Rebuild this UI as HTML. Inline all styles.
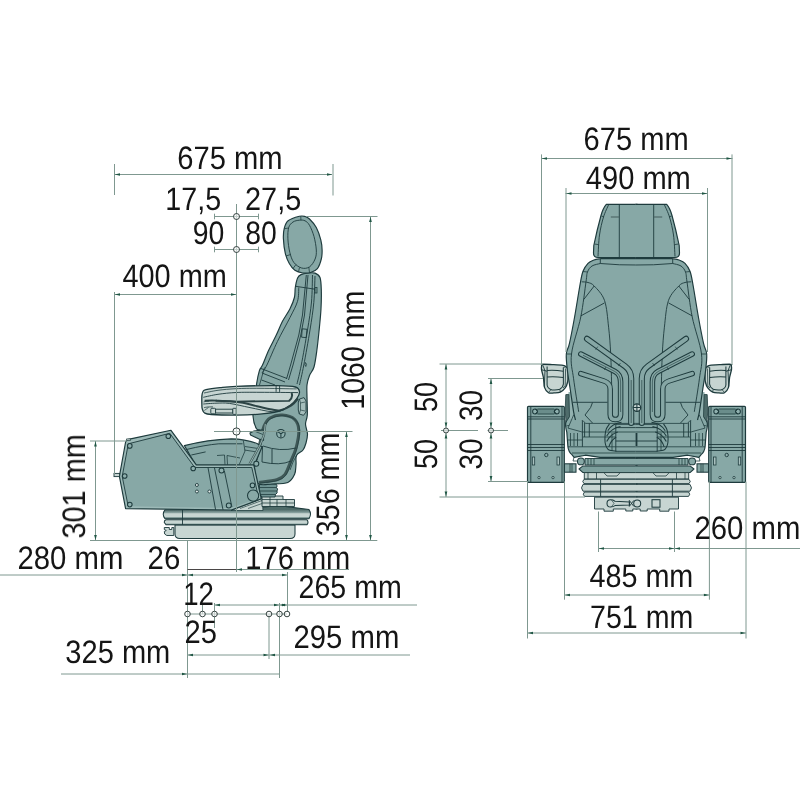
<!DOCTYPE html>
<html><head><meta charset="utf-8"><title>Seat dimensions</title>
<style>html,body{margin:0;padding:0;background:#fff}svg{display:block}</style></head><body>
<svg width="800" height="800" viewBox="0 0 800 800">
<rect width="800" height="800" fill="#fff"/>
<defs><linearGradient id="dg1" gradientUnits="userSpaceOnUse" x1="0" y1="509.5" x2="0" y2="519"><stop offset="0" stop-color="#4f6b69"/><stop offset="0.3" stop-color="#7e9896"/><stop offset="0.45" stop-color="#c7d5d2"/><stop offset="0.75" stop-color="#c7d5d2"/><stop offset="0.85" stop-color="#7e9896"/><stop offset="1" stop-color="#5f7a78"/></linearGradient><linearGradient id="dg2" gradientUnits="userSpaceOnUse" x1="0" y1="519.8" x2="0" y2="525"><stop offset="0" stop-color="#c7d5d2"/><stop offset="0.65" stop-color="#c7d5d2"/><stop offset="0.8" stop-color="#7e9896"/><stop offset="1" stop-color="#5f7a78"/></linearGradient></defs>
<g id="side">
<path d="M175 525 H295 V534 Q295 538.5 290 538.5 H180 Q175 538.5 175 534Z" fill="#c7d5d2" stroke="#1e3b3d" stroke-width="1.04" stroke-linejoin="round"  stroke-linecap="butt"/>
<path d="M166 519.8 H307 Q309 522 307 524.8 H166 L164.3 522.5 Q164 520.5 166 519.8Z" fill="url(#dg2)" stroke="#1e3b3d" stroke-width="1.04" stroke-linejoin="round"  stroke-linecap="butt"/>
<path d="M165 509.8 L243 509.4 L278 505.5 L309 509.6 Q312 514 309 518.8 H165 Q161.5 514 165 509.8Z" fill="url(#dg1)" stroke="#1e3b3d" stroke-width="1.04" stroke-linejoin="round"  stroke-linecap="butt"/>
<path d="M164.3 527.5 h5 v2 h2.5 v-2 h2 v8 h-7 q-3 -1 -2.5 -4 l2 -1 l-2 -1z" fill="#c7d5d2" stroke="#1e3b3d" stroke-width="0.91" stroke-linejoin="round"  stroke-linecap="butt"/>
<path d="M182.5 510V525" fill="none" stroke="#1e3b3d" stroke-width="0.91" stroke-linejoin="round"  stroke-linecap="butt"/>
<path d="M231 510.5 L261.3 498.8 L262 496 L263 510.5Z" fill="#c7d5d2" stroke="#1e3b3d" stroke-width="0.78" stroke-linejoin="round"  stroke-linecap="butt"/>
<path d="M240 508.5 L262 500.5 M248 508.5 L262 503.5" fill="none" stroke="#1e3b3d" stroke-width="0.65" stroke-linejoin="round"  stroke-linecap="butt"/>
<path d="M262 496 H283 V499.5 H294.5 V506.5 H262Z" fill="#c7d5d2" stroke="#1e3b3d" stroke-width="0.91" stroke-linejoin="round"  stroke-linecap="butt"/>
<path d="M262 499.5H283M262 503H294.5M270 496V506.5M277 499.5V506.5M286 499.5V506.5" fill="none" stroke="#1e3b3d" stroke-width="0.78" stroke-linejoin="round"  stroke-linecap="butt"/>
<path d="M259.5 484 H276 Q278 486 276.5 487.5 Q278.5 489 277 491 Q278 493 275.5 494.5 L275 497 H262 L259.5 494Z" fill="#6f9392" stroke="#1e3b3d" stroke-width="0.91" stroke-linejoin="round"  stroke-linecap="butt"/>
<path d="M260 487.5H276.5M260 491H277M261 494.5H275.5" fill="none" stroke="#1e3b3d" stroke-width="0.78" stroke-linejoin="round"  stroke-linecap="butt"/>
<path d="M301 274.6C302.73 273.77 305.67 273.25 308 273C310.33 272.75 313 272.35 315 273.1C317 273.85 318.95 274.68 320 277.5C321.05 280.32 321.13 284.78 321.3 290C321.47 295.22 321.32 302.55 321 308.8C320.68 315.05 320.08 320.63 319.4 327.5C318.72 334.37 317.8 343.42 316.9 350C316 356.58 315.23 362.75 314 367C312.77 371.25 310.67 372.5 309.5 375.5C308.33 378.5 307.42 381.42 307 385C306.58 388.58 306.95 392 307 397C307.05 402 307.55 410.5 307.3 415C307.05 419.5 305.47 420.83 305.5 424C305.53 427.17 307.42 430.83 307.5 434C307.58 437.17 306.75 440.33 306 443C305.25 445.67 304.58 447.92 303 450C301.42 452.08 297.67 453.07 296.5 455.5C295.33 457.93 296.32 461.47 296 464.6C295.68 467.73 295.97 471.32 294.6 474.3C293.23 477.28 291.57 480.88 287.8 482.5C284.03 484.12 276.97 483.83 272 484C267.03 484.17 260.92 486.17 258 483.5C255.08 480.83 254.67 472.75 254.5 468C254.33 463.25 255.92 459 257 455C258.08 451 260.08 447.17 261 444C261.92 440.83 262.58 438.25 262.5 436C262.42 433.75 261.53 431.75 260.5 430.5C259.47 429.25 257.55 430.92 256.3 428.5C255.05 426.08 253.22 420.75 253 416C252.78 411.25 254.4 405.37 255 400C255.6 394.63 255.87 388.7 256.6 383.8C257.33 378.9 258.42 373.73 259.4 370.6C260.38 367.47 260.93 368.43 262.5 365C264.07 361.57 266.5 355 268.8 350C271.1 345 274.02 339.78 276.3 335C278.58 330.22 280.22 325.67 282.5 321.3C284.78 316.93 288.02 312.77 290 308.8C291.98 304.83 293.52 301.05 294.4 297.5C295.28 293.95 294.77 290.75 295.3 287.5C295.83 284.25 296.65 280.15 297.6 278C298.55 275.85 299.27 275.43 301 274.6Z" fill="#87a8a6" stroke="#1e3b3d" stroke-width="1.17" stroke-linejoin="round"  stroke-linecap="butt"/>
<path d="M298.8 287.5C298.58 289.8 298.97 296.3 297.5 301.3C296.03 306.3 293.33 310.83 290 317.5C286.67 324.17 281.35 333.38 277.5 341.3C273.65 349.22 269.48 359.72 266.9 365C264.32 370.28 262.82 371.67 262 373" fill="none" stroke="#1e3b3d" stroke-width="0.91" stroke-linejoin="round"  stroke-linecap="butt"/>
<path d="M306.3 275 L302.5 315 L298.8 335 L290.6 365 L286.5 379" fill="none" stroke="#1e3b3d" stroke-width="0.91" stroke-linejoin="round"  stroke-linecap="butt"/>
<path d="M308 275 L304.5 315 L300.8 335 L293 365 L288.5 380" fill="none" stroke="#1e3b3d" stroke-width="0.91" stroke-linejoin="round"  stroke-linecap="butt"/>
<path d="M312.5 275C312.33 279.5 312.33 292.83 311.5 302C310.67 311.17 309.2 319.5 307.5 330C305.8 340.5 303.05 356 301.3 365C299.55 374 297.72 380.83 297 384" fill="none" stroke="#1e3b3d" stroke-width="0.91" stroke-linejoin="round"  stroke-linecap="butt"/>
<path d="M315 276C314.8 280.42 314.63 293.5 313.8 302.5C312.97 311.5 311.67 319.58 310 330C308.33 340.42 305.55 355.83 303.8 365C302.05 374.17 300.22 381.67 299.5 385" fill="none" stroke="#1e3b3d" stroke-width="0.91" stroke-linejoin="round"  stroke-linecap="butt"/>
<path d="M295.6 286.3 L316.3 289.4" fill="none" stroke="#1e3b3d" stroke-width="0.91" stroke-linejoin="round"  stroke-linecap="butt"/>
<rect x="315" y="287.5" width="2" height="5.5" rx="0" fill="#7a9b9a" stroke="#1e3b3d" stroke-width="0.78"/>
<path d="M302.2 328.8 L307 329.3 L306.2 337.6 L301.6 337.2Z" fill="none" stroke="#1e3b3d" stroke-width="0.91" stroke-linejoin="round"  stroke-linecap="butt"/>
<path d="M305.5 362.5 q1.8 1.5 0.3 4 q-1.6 -1.5 -0.3 -4z" fill="none" stroke="#1e3b3d" stroke-width="0.78" stroke-linejoin="round"  stroke-linecap="butt"/>
<path d="M261 368.5 L287 378.5 M262 373 L285 382 M261.5 380 L275 385" fill="none" stroke="#1e3b3d" stroke-width="0.91" stroke-linejoin="round"  stroke-linecap="butt"/>
<path d="M264.5 367.5 L259.5 385" fill="none" stroke="#1e3b3d" stroke-width="0.78" stroke-linejoin="round"  stroke-linecap="butt"/>
<path d="M299.5 399 L304 397.6 L306 401 L306 412 L303.5 415.3 L299.3 414 L298.3 410 L298.3 402Z" fill="#a5bebc" stroke="#1e3b3d" stroke-width="0.91" stroke-linejoin="round"  stroke-linecap="butt"/>
<path d="M299.5 399 L300.5 403 L300.5 410 L299.3 414 M300.5 403 L305 402 M300.5 410 L305 411" fill="none" stroke="#1e3b3d" stroke-width="0.65" stroke-linejoin="round"  stroke-linecap="butt"/>
<path d="M299.4 216.3C302.22 215.58 303.32 216.05 305 216.5C306.68 216.95 307.62 217.17 309.5 219C311.38 220.83 314.42 224.02 316.3 227.5C318.18 230.98 319.83 236.15 320.8 239.9C321.77 243.65 322.02 246.82 322.1 250C322.18 253.18 322.08 255.9 321.3 259C320.52 262.1 319.18 266.35 317.4 268.6C315.62 270.85 313.03 271.77 310.6 272.5C308.17 273.23 305.42 273.37 302.8 273C300.18 272.63 297.15 271.88 294.9 270.3C292.65 268.72 290.9 266.32 289.3 263.5C287.7 260.68 286.28 257.52 285.3 253.4C284.32 249.28 283.58 242.93 283.4 238.8C283.22 234.67 283.42 231.6 284.2 228.6C284.98 225.6 285.57 222.85 288.1 220.8C290.63 218.75 296.58 217.02 299.4 216.3Z" fill="#87a8a6" stroke="#1e3b3d" stroke-width="1.17" stroke-linejoin="round"  stroke-linecap="butt"/>
<path d="M299.4 220.2C301.4 220 303.32 219.95 305 220.8C306.68 221.65 308 222.68 309.5 225.3C311 227.92 312.87 232.38 314 236.5C315.13 240.62 316.12 246.25 316.3 250C316.48 253.75 316.23 256.18 315.1 259C313.97 261.82 311.75 265.4 309.5 266.9C307.25 268.4 304.22 268.75 301.6 268C298.98 267.25 295.77 265.02 293.8 262.4C291.83 259.78 290.78 256.23 289.8 252.3C288.82 248.37 288.08 242.93 287.9 238.8C287.72 234.67 287.85 230.3 288.7 227.5C289.55 224.7 291.22 223.22 293 222C294.78 220.78 297.4 220.4 299.4 220.2Z" fill="none" stroke="#1e3b3d" stroke-width="0.91" stroke-linejoin="round"  stroke-linecap="butt"/>
<path d="M284.3 228.7 L288.7 228 M286 256 L290.6 254.5 M293 268.5 L296 264.5 M298.5 271.8 L299.5 267.5 M309.5 272.5 L308.8 267.2 M300.8 216.3 L300.9 220.1" fill="none" stroke="#1e3b3d" stroke-width="0.78" stroke-linejoin="round"  stroke-linecap="butt"/>
<path d="M258.9 482.5C261.88 482.05 272.45 481.17 276.8 479.8C281.15 478.43 282.72 477.28 285 474.3C287.28 471.32 288.67 466.27 290.5 461.9C292.33 457.53 294.62 453.37 296 448.1C297.38 442.83 299.03 435.1 298.8 430.3C298.57 425.5 297.35 421.83 294.6 419.3C291.85 416.77 286.4 415.32 282.3 415.1C278.2 414.88 273.05 416.18 270 418C266.95 419.82 265.5 422.67 264 426C262.5 429.33 262 433.67 261 438C260 442.33 259.17 447.33 258 452C256.83 456.67 254.67 463.67 254 466" fill="none" stroke="#3f5857" stroke-width="3.0" stroke-linejoin="round"  stroke-linecap="butt"/>
<path d="M258.9 482.5C261.88 482.05 272.45 481.17 276.8 479.8C281.15 478.43 282.72 477.28 285 474.3C287.28 471.32 288.67 466.27 290.5 461.9C292.33 457.53 294.62 453.37 296 448.1C297.38 442.83 299.03 435.1 298.8 430.3C298.57 425.5 297.35 421.83 294.6 419.3C291.85 416.77 286.4 415.32 282.3 415.1C278.2 414.88 273.05 416.18 270 418C266.95 419.82 265.5 422.67 264 426C262.5 429.33 262 433.67 261 438C260 442.33 259.17 447.33 258 452C256.83 456.67 254.67 463.67 254 466" fill="none" stroke="#1e3b3d" stroke-width="0.65" stroke-linejoin="round" transform="translate(0.9,0.6)" stroke-linecap="butt"/>
<circle cx="280.9" cy="433.7" r="4.2" fill="#8fb0ae" stroke="#1e3b3d" stroke-width="1.04"/>
<path d="M280.9 433.7 L280.9 437.5 M280.9 433.7 L277.6 431.6 M280.9 433.7 L284.2 431.6" fill="none" stroke="#1e3b3d" stroke-width="1.04" stroke-linejoin="round"  stroke-linecap="butt"/>
<path d="M263 446 Q280 452 296 448 M262.5 446 L262 462 M272 449 V463 M262 462 Q280 466 291 461" fill="none" stroke="#1e3b3d" stroke-width="0.91" stroke-linejoin="round"  stroke-linecap="butt"/>
<path d="M296.5 455.5 L293 462 L290 470" fill="none" stroke="#1e3b3d" stroke-width="0.78" stroke-linejoin="round"  stroke-linecap="butt"/>
<path d="M263.5 429.8 L254 431 L250 433 L250.6 435 L259 439 L263.5 440.3Z" fill="#87a8a6" stroke="#1e3b3d" stroke-width="1.17" stroke-linejoin="round"  stroke-linecap="butt"/>
<path d="M254.5 431.2 L263 434.5" fill="none" stroke="#1e3b3d" stroke-width="0.78" stroke-linejoin="round"  stroke-linecap="butt"/>
<path d="M184.4 445.6 Q208 439.5 231.3 438.8 Q246 439 257.5 443.8 L262 447 L254 466 L196.3 466Z" fill="#87a8a6" stroke="#1e3b3d" stroke-width="1.17" stroke-linejoin="round"  stroke-linecap="butt"/>
<path d="M186.9 449.4 Q205 445 218.8 443.8 L242.5 443.8 M191.3 455 L205.6 451.9" fill="none" stroke="#1e3b3d" stroke-width="0.91" stroke-linejoin="round"  stroke-linecap="butt"/>
<path d="M217 455.5 L224.5 455 L225 465 M227.5 465 L227 455.5 L240 458 M243.3 440.5 L245 451 L239 465 M245 446.5 L258 448.5 M244.5 450 L257 452" fill="none" stroke="#1e3b3d" stroke-width="0.78" stroke-linejoin="round"  stroke-linecap="butt"/>
<path d="M265.3 424 L264 435 L260 445 L249.5 464" fill="none" stroke="#3f5857" stroke-width="2.2" stroke-linejoin="round"  stroke-linecap="butt"/>
<path d="M265.3 424 L264 435 L260 445 L249.5 464" fill="none" stroke="#9cb9b7" stroke-width="0.91" stroke-linejoin="round"  stroke-linecap="butt"/>
<path d="M125.6 442 L127.3 439.6 L129.5 439.1 L171 430.3 L196.3 464.8 L253.8 464.8 L261.3 498.8 L231.3 510 L125.6 508.7 L119.4 476.4Z" fill="#9cb9b7" stroke="#1e3b3d" stroke-width="1.17" stroke-linejoin="round"  stroke-linecap="butt"/>
<path d="M128.3 443.8 L169.8 433.3 L194.8 467.5 L251.8 467.5 L258.6 498 L231 508 L128.2 506.3 L122.2 476.4Z" fill="#87a8a6" stroke="none" stroke-width="0.0" stroke-linejoin="round"  stroke-linecap="butt"/>
<path d="M128.3 443.8 L169.8 433.3 L194.8 467.5 L251.8 467.5 L258.6 498" fill="none" stroke="#1e3b3d" stroke-width="0.91" stroke-linejoin="round"  stroke-linecap="butt"/>
<path d="M128.3 443.8 L122.2 476.4 L128.2 506.3" fill="none" stroke="#1e3b3d" stroke-width="0.91" stroke-linejoin="round"  stroke-linecap="butt"/>
<path d="M126.5 440.5 h4 v-1.6 h-4z" fill="#c7d5d2" stroke="#1e3b3d" stroke-width="0.65" stroke-linejoin="round"  stroke-linecap="butt"/>
<path d="M208 467.5 L215.6 509.8 M214.4 467.5 L223 509.8 M224.4 471 L231.9 507" fill="none" stroke="#1e3b3d" stroke-width="0.91" stroke-linejoin="round"  stroke-linecap="butt"/>
<circle cx="129.8" cy="445.9" r="2.3" fill="#8fb0ae" stroke="#1e3b3d" stroke-width="1.04"/>
<circle cx="168.3" cy="436.2" r="2.3" fill="#8fb0ae" stroke="#1e3b3d" stroke-width="1.04"/>
<circle cx="124.7" cy="476" r="2.3" fill="#8fb0ae" stroke="#1e3b3d" stroke-width="1.04"/>
<circle cx="129.8" cy="504.6" r="2.3" fill="#8fb0ae" stroke="#1e3b3d" stroke-width="1.04"/>
<circle cx="193.2" cy="468.5" r="2.3" fill="#8fb0ae" stroke="#1e3b3d" stroke-width="1.04"/>
<circle cx="221.5" cy="470.6" r="2.5" fill="#8fb0ae" stroke="#1e3b3d" stroke-width="1.04"/>
<circle cx="228.8" cy="505.6" r="2.5" fill="#8fb0ae" stroke="#1e3b3d" stroke-width="1.04"/>
<circle cx="252.5" cy="485.4" r="2.3" fill="#8fb0ae" stroke="#1e3b3d" stroke-width="1.04"/>
<circle cx="256.3" cy="463.8" r="2.5" fill="#8fb0ae" stroke="#1e3b3d" stroke-width="1.04"/>
<circle cx="253.1" cy="495.6" r="5.6" fill="#87a8a6" stroke="#1e3b3d" stroke-width="1.04"/>
<circle cx="196.9" cy="485" r="1.5" fill="#e4ecea" stroke="#1e3b3d" stroke-width="0.91"/>
<circle cx="196.9" cy="491.5" r="1.5" fill="#e4ecea" stroke="#1e3b3d" stroke-width="0.91"/>
<circle cx="209.4" cy="491.5" r="1.5" fill="#e4ecea" stroke="#1e3b3d" stroke-width="0.91"/>
<rect x="114" y="473.4" width="5.6" height="3.2" rx="0" fill="#c7d5d2" stroke="#1e3b3d" stroke-width="0.91"/>
<path d="M201.9 395.9C202.08 393.57 202.32 392.53 203 391.5C203.68 390.47 203.17 390.35 206 389.7C208.83 389.05 214.95 388.17 220 387.6C225.05 387.03 226.72 386.63 236.3 386.3C245.88 385.97 267.65 385.48 277.5 385.6C287.35 385.72 291.73 385.97 295.4 387C299.07 388.03 299.27 389.87 299.5 391.8C299.73 393.73 298.4 396.32 296.8 398.6C295.2 400.88 293.12 403.32 289.9 405.5C286.68 407.68 283 410.22 277.5 411.7C272 413.18 263.77 413.83 256.9 414.4C250.03 414.97 243.87 415.08 236.3 415.1C228.73 415.12 216.78 414.85 211.5 414.5C206.22 414.15 206.13 413.92 204.6 413C203.07 412.08 202.75 410.25 202.3 409C201.85 407.75 201.97 407.68 201.9 405.5C201.83 403.32 201.72 398.23 201.9 395.9Z" fill="#c7d5d2" stroke="#1e3b3d" stroke-width="1.3" stroke-linejoin="round"  stroke-linecap="butt"/>
<path d="M204 393C206.33 392.55 212.67 391.02 218 390.3C223.33 389.58 229 389.03 236 388.7C243 388.37 249.88 388.27 260 388.3C270.12 388.33 290.58 388.8 296.7 388.9" fill="none" stroke="#1e3b3d" stroke-width="0.78" stroke-linejoin="round"  stroke-linecap="butt"/>
<path d="M203.3 397.3C205.75 396.8 212.5 395.1 218 394.3C223.5 393.5 229.3 392.83 236.3 392.5C243.3 392.17 249.72 392.28 260 392.3C270.28 392.32 291.67 392.55 298 392.6" fill="none" stroke="#1e3b3d" stroke-width="0.91" stroke-linejoin="round"  stroke-linecap="butt"/>
<path d="M204.6 400.7 Q212 400.2 217 400.6 L236 401.6 L289 400.9 Q293.5 397 291.5 393" fill="none" stroke="#2c4445" stroke-width="1.95" stroke-linejoin="round"  stroke-linecap="butt"/>
<path d="M215.6 400.7C218 400.8 225.43 400.95 230 401.3C234.57 401.65 238.52 401.98 243 402.8C247.48 403.62 252.07 405.07 256.9 406.2C261.73 407.33 268.1 408.92 272 409.6C275.9 410.28 277.08 410.98 280.3 410.3C283.52 409.62 288.35 407.45 291.3 405.5C294.25 403.55 296.88 399.75 298 398.6" fill="none" stroke="#2c4445" stroke-width="2.08" stroke-linejoin="round"  stroke-linecap="butt"/>
<path d="M203.3 404C205.42 403.87 211.65 403.3 216 403.2C220.35 403.1 223.73 402.67 229.4 403.4C235.07 404.13 242.9 406.22 250 407.6C257.1 408.98 266.27 411.37 272 411.7C277.73 412.03 282.33 409.95 284.4 409.6" fill="none" stroke="#1e3b3d" stroke-width="0.91" stroke-linejoin="round"  stroke-linecap="butt"/>
<path d="M204 407.6C204.67 407.5 206.5 407.12 208 407C209.5 406.88 212.17 406.92 213 406.9" fill="none" stroke="#1e3b3d" stroke-width="0.78" stroke-linejoin="round"  stroke-linecap="butt"/>
<path d="M203.5 402 Q206 401 209 401.2 M204.3 410.5 L208.5 407.5" fill="none" stroke="#1e3b3d" stroke-width="0.65" stroke-linejoin="round"  stroke-linecap="butt"/>
<path d="M276.1 385.7 V391.8 M279.6 385.8 V391.9" fill="none" stroke="#1e3b3d" stroke-width="0.91" stroke-linejoin="round"  stroke-linecap="butt"/>
<rect x="210.8" y="408.3" width="4.8" height="5.5" rx="1" fill="#c7d5d2" stroke="#1e3b3d" stroke-width="0.91"/>
<rect x="215.6" y="409.2" width="17.2" height="3.8" rx="0" fill="#c7d5d2" stroke="#1e3b3d" stroke-width="0.91"/>
<rect x="232.8" y="408.3" width="3.4" height="6.1" rx="0.8" fill="#c7d5d2" stroke="#1e3b3d" stroke-width="0.91"/>
</g>
<g id="front">
<g><rect x="527.5" y="406.3" width="36.8" height="76" rx="1" fill="#87a8a6" stroke="#1e3b3d" stroke-width="1.17"/>
<path d="M530.8 407V482 M562 407V482 M527.5 416.8H564.3 M527.5 419H564.3 M527.5 444.5H564.3 M527.5 447.5H564.3 M527.5 450.5H564.3" fill="none" stroke="#1e3b3d" stroke-width="0.91" stroke-linejoin="round"  stroke-linecap="butt"/>
<path d="M535 408.7 H556.8 V414.3 H535Z" fill="#6a8d8b" stroke="none" stroke-width="0.0" stroke-linejoin="round"  stroke-linecap="butt"/>
<circle cx="535" cy="411.5" r="2.4" fill="#8fb0ae" stroke="#1e3b3d" stroke-width="1.04"/>
<circle cx="556.8" cy="411.5" r="2.4" fill="#8fb0ae" stroke="#1e3b3d" stroke-width="1.04"/>
<path d="M535 409 l2.5 2.5 l-2.5 2.5 M556.8 409 l-2.5 2.5 l2.5 2.5 M537.5 409H554.3 M537.5 414H554.3" fill="none" stroke="#1e3b3d" stroke-width="0.78" stroke-linejoin="round"  stroke-linecap="butt"/>
<circle cx="546.3" cy="455" r="1.7" fill="#8fb0ae" stroke="#1e3b3d" stroke-width="0.91"/>
<rect x="532.3" y="457" width="2.4" height="8" rx="0" fill="#a9c1bf" stroke="#1e3b3d" stroke-width="0.78"/>
<rect x="557" y="457" width="2.4" height="8" rx="0" fill="#a9c1bf" stroke="#1e3b3d" stroke-width="0.78"/>
<circle cx="539" cy="477.6" r="1.2" fill="#a9c1bf" stroke="#1e3b3d" stroke-width="0.78"/>
<circle cx="553" cy="477.6" r="1.2" fill="#a9c1bf" stroke="#1e3b3d" stroke-width="0.78"/>
<path d="M542.3 364.3C544.02 364.12 548.53 364.42 552 364.6C555.47 364.78 560.68 364.98 563.1 365.4C565.52 365.82 565.65 366.42 566.5 367.1C567.35 367.78 567.95 368.02 568.2 369.5C568.45 370.98 568.1 373.92 568 376C567.9 378.08 568.03 380.07 567.6 382C567.17 383.93 566.62 385.92 565.4 387.6C564.18 389.28 562.2 391.22 560.3 392.1C558.4 392.98 555.97 392.8 554 392.9C552.03 393 550.07 393.58 548.5 392.7C546.93 391.82 545.45 390.13 544.6 387.6C543.75 385.07 543.92 380.5 543.4 377.5C542.88 374.5 541.78 371.57 541.5 369.6C541.22 367.63 541.57 366.58 541.7 365.7C541.83 364.82 540.58 364.48 542.3 364.3Z" fill="#c7d5d2" stroke="#1e3b3d" stroke-width="1.3" stroke-linejoin="round"  stroke-linecap="butt"/>
<path d="M547.1 366.5 V385 Q547.5 388.5 552 389.9 Q556 390.5 559.7 389.3 Q563 387.5 563.4 384 L563.3 367.5" fill="none" stroke="#1e3b3d" stroke-width="1.04" stroke-linejoin="round"  stroke-linecap="butt"/>
<path d="M542.6 364.8 L545 370.6 L547.1 371.3 M545 370.6 L544.3 386.5 M541.8 369.8 L545 370.6" fill="none" stroke="#1e3b3d" stroke-width="0.91" stroke-linejoin="round"  stroke-linecap="butt"/>
<path d="M547.1 370.4 Q555 369.8 563.3 371.2 M547.1 376.9 Q555 376.2 563.3 377.5" fill="none" stroke="#1e3b3d" stroke-width="1.04" stroke-linejoin="round"  stroke-linecap="butt"/>
<path d="M563.3 367.5 L566 366.8 M565.6 368.5 L565.2 385.5 L563 388 M548.5 392.5 L551 389.6 M559.7 389.3 L560.5 392" fill="none" stroke="#1e3b3d" stroke-width="0.78" stroke-linejoin="round"  stroke-linecap="butt"/>
<rect x="564.5" y="463.8" width="11.5" height="8.4" rx="0" fill="#87a8a6" stroke="#1e3b3d" stroke-width="1.04"/>
<path d="M570 463.8V472.2 M572 463.8V472.2" fill="none" stroke="#1e3b3d" stroke-width="0.78" stroke-linejoin="round"  stroke-linecap="butt"/>
<circle cx="580.9" cy="461.4" r="3.4" fill="#87a8a6" stroke="#1e3b3d" stroke-width="1.04"/>
<path d="M637.5 458.5 H585 V465 H637.5Z" fill="#87a8a6" stroke="none" stroke-width="0.0" stroke-linejoin="round"  stroke-linecap="butt"/>
<path d="M637.5 458.5 H585 V465 H637.5" fill="none" stroke="#1e3b3d" stroke-width="0.91" stroke-linejoin="round"  stroke-linecap="butt"/>
<path d="M588 458.5V465 M591 458.5V465 M594 458.5V465" fill="none" stroke="#1e3b3d" stroke-width="0.78" stroke-linejoin="round"  stroke-linecap="butt"/>
<path d="M637.5 465.9 H583 L579 469 L583 472.6 H637.5Z" fill="#7d9f9d" stroke="none" stroke-width="0.0" stroke-linejoin="round"  stroke-linecap="butt"/>
<path d="M637.5 465.9 H583 L579 469 L583 472.6 H637.5" fill="none" stroke="#1e3b3d" stroke-width="1.04" stroke-linejoin="round"  stroke-linecap="butt"/>
<path d="M637.5 472.6 H584.3 V479 H637.5Z" fill="#c7d5d2" stroke="none" stroke-width="0.0" stroke-linejoin="round"  stroke-linecap="butt"/>
<path d="M637.5 472.6 H584.3 V479 H637.5" fill="none" stroke="#1e3b3d" stroke-width="0.91" stroke-linejoin="round"  stroke-linecap="butt"/>
<path d="M588 472.6V479 M596.5 472.6V479 M604 472.8 L607 476 H617 L620 472.8" fill="none" stroke="#1e3b3d" stroke-width="0.78" stroke-linejoin="round"  stroke-linecap="butt"/>
<path d="M637.5 479.3 H584 Q581.5 481.5 584 483.6 H637.5Z" fill="#c7d5d2" stroke="none" stroke-width="0.0" stroke-linejoin="round"  stroke-linecap="butt"/>
<path d="M637.5 479.3 H584 Q581.5 481.5 584 483.6 H637.5" fill="none" stroke="#1e3b3d" stroke-width="0.91" stroke-linejoin="round"  stroke-linecap="butt"/>
<path d="M637.5 484.4 H583 Q580 488 583 491.2 H637.5Z" fill="#c7d5d2" stroke="none" stroke-width="0.0" stroke-linejoin="round"  stroke-linecap="butt"/>
<path d="M637.5 484.4 H583 Q580 488 583 491.2 H637.5" fill="none" stroke="#1e3b3d" stroke-width="0.91" stroke-linejoin="round"  stroke-linecap="butt"/>
<path d="M637.5 492 H584.5 Q582 494.2 584.5 496.4 H637.5Z" fill="#c7d5d2" stroke="none" stroke-width="0.0" stroke-linejoin="round"  stroke-linecap="butt"/>
<path d="M637.5 492 H584.5 Q582 494.2 584.5 496.4 H637.5" fill="none" stroke="#1e3b3d" stroke-width="0.91" stroke-linejoin="round"  stroke-linecap="butt"/>
<path d="M600.6 479.3V496.4" fill="none" stroke="#1e3b3d" stroke-width="0.91" stroke-linejoin="round"  stroke-linecap="butt"/>
<path d="M637.5 497.2 H594.5 V509 H604 V511.2 H613.3 V509 H625.8 V511 H632.8 V509 H637.5Z" fill="#c7d5d2" stroke="none" stroke-width="0.0" stroke-linejoin="round"  stroke-linecap="butt"/>
<path d="M637.5 497.2 H594.5 V509 H604 V511.2 H613.3 V509 H625.8 V511 H632.8 V509 H637.5" fill="none" stroke="#1e3b3d" stroke-width="0.91" stroke-linejoin="round"  stroke-linecap="butt"/></g>
<g transform="translate(1273.0,0) scale(-1,1)"><rect x="527.5" y="406.3" width="36.8" height="76" rx="1" fill="#87a8a6" stroke="#1e3b3d" stroke-width="1.17"/>
<path d="M530.8 407V482 M562 407V482 M527.5 416.8H564.3 M527.5 419H564.3 M527.5 444.5H564.3 M527.5 447.5H564.3 M527.5 450.5H564.3" fill="none" stroke="#1e3b3d" stroke-width="0.91" stroke-linejoin="round"  stroke-linecap="butt"/>
<path d="M535 408.7 H556.8 V414.3 H535Z" fill="#6a8d8b" stroke="none" stroke-width="0.0" stroke-linejoin="round"  stroke-linecap="butt"/>
<circle cx="535" cy="411.5" r="2.4" fill="#8fb0ae" stroke="#1e3b3d" stroke-width="1.04"/>
<circle cx="556.8" cy="411.5" r="2.4" fill="#8fb0ae" stroke="#1e3b3d" stroke-width="1.04"/>
<path d="M535 409 l2.5 2.5 l-2.5 2.5 M556.8 409 l-2.5 2.5 l2.5 2.5 M537.5 409H554.3 M537.5 414H554.3" fill="none" stroke="#1e3b3d" stroke-width="0.78" stroke-linejoin="round"  stroke-linecap="butt"/>
<circle cx="546.3" cy="455" r="1.7" fill="#8fb0ae" stroke="#1e3b3d" stroke-width="0.91"/>
<rect x="532.3" y="457" width="2.4" height="8" rx="0" fill="#a9c1bf" stroke="#1e3b3d" stroke-width="0.78"/>
<rect x="557" y="457" width="2.4" height="8" rx="0" fill="#a9c1bf" stroke="#1e3b3d" stroke-width="0.78"/>
<circle cx="539" cy="477.6" r="1.2" fill="#a9c1bf" stroke="#1e3b3d" stroke-width="0.78"/>
<circle cx="553" cy="477.6" r="1.2" fill="#a9c1bf" stroke="#1e3b3d" stroke-width="0.78"/>
<path d="M542.3 364.3C544.02 364.12 548.53 364.42 552 364.6C555.47 364.78 560.68 364.98 563.1 365.4C565.52 365.82 565.65 366.42 566.5 367.1C567.35 367.78 567.95 368.02 568.2 369.5C568.45 370.98 568.1 373.92 568 376C567.9 378.08 568.03 380.07 567.6 382C567.17 383.93 566.62 385.92 565.4 387.6C564.18 389.28 562.2 391.22 560.3 392.1C558.4 392.98 555.97 392.8 554 392.9C552.03 393 550.07 393.58 548.5 392.7C546.93 391.82 545.45 390.13 544.6 387.6C543.75 385.07 543.92 380.5 543.4 377.5C542.88 374.5 541.78 371.57 541.5 369.6C541.22 367.63 541.57 366.58 541.7 365.7C541.83 364.82 540.58 364.48 542.3 364.3Z" fill="#c7d5d2" stroke="#1e3b3d" stroke-width="1.3" stroke-linejoin="round"  stroke-linecap="butt"/>
<path d="M547.1 366.5 V385 Q547.5 388.5 552 389.9 Q556 390.5 559.7 389.3 Q563 387.5 563.4 384 L563.3 367.5" fill="none" stroke="#1e3b3d" stroke-width="1.04" stroke-linejoin="round"  stroke-linecap="butt"/>
<path d="M542.6 364.8 L545 370.6 L547.1 371.3 M545 370.6 L544.3 386.5 M541.8 369.8 L545 370.6" fill="none" stroke="#1e3b3d" stroke-width="0.91" stroke-linejoin="round"  stroke-linecap="butt"/>
<path d="M547.1 370.4 Q555 369.8 563.3 371.2 M547.1 376.9 Q555 376.2 563.3 377.5" fill="none" stroke="#1e3b3d" stroke-width="1.04" stroke-linejoin="round"  stroke-linecap="butt"/>
<path d="M563.3 367.5 L566 366.8 M565.6 368.5 L565.2 385.5 L563 388 M548.5 392.5 L551 389.6 M559.7 389.3 L560.5 392" fill="none" stroke="#1e3b3d" stroke-width="0.78" stroke-linejoin="round"  stroke-linecap="butt"/>
<rect x="564.5" y="463.8" width="11.5" height="8.4" rx="0" fill="#87a8a6" stroke="#1e3b3d" stroke-width="1.04"/>
<path d="M570 463.8V472.2 M572 463.8V472.2" fill="none" stroke="#1e3b3d" stroke-width="0.78" stroke-linejoin="round"  stroke-linecap="butt"/>
<circle cx="580.9" cy="461.4" r="3.4" fill="#87a8a6" stroke="#1e3b3d" stroke-width="1.04"/>
<path d="M637.5 458.5 H585 V465 H637.5Z" fill="#87a8a6" stroke="none" stroke-width="0.0" stroke-linejoin="round"  stroke-linecap="butt"/>
<path d="M637.5 458.5 H585 V465 H637.5" fill="none" stroke="#1e3b3d" stroke-width="0.91" stroke-linejoin="round"  stroke-linecap="butt"/>
<path d="M588 458.5V465 M591 458.5V465 M594 458.5V465" fill="none" stroke="#1e3b3d" stroke-width="0.78" stroke-linejoin="round"  stroke-linecap="butt"/>
<path d="M637.5 465.9 H583 L579 469 L583 472.6 H637.5Z" fill="#7d9f9d" stroke="none" stroke-width="0.0" stroke-linejoin="round"  stroke-linecap="butt"/>
<path d="M637.5 465.9 H583 L579 469 L583 472.6 H637.5" fill="none" stroke="#1e3b3d" stroke-width="1.04" stroke-linejoin="round"  stroke-linecap="butt"/>
<path d="M637.5 472.6 H584.3 V479 H637.5Z" fill="#c7d5d2" stroke="none" stroke-width="0.0" stroke-linejoin="round"  stroke-linecap="butt"/>
<path d="M637.5 472.6 H584.3 V479 H637.5" fill="none" stroke="#1e3b3d" stroke-width="0.91" stroke-linejoin="round"  stroke-linecap="butt"/>
<path d="M588 472.6V479 M596.5 472.6V479 M604 472.8 L607 476 H617 L620 472.8" fill="none" stroke="#1e3b3d" stroke-width="0.78" stroke-linejoin="round"  stroke-linecap="butt"/>
<path d="M637.5 479.3 H584 Q581.5 481.5 584 483.6 H637.5Z" fill="#c7d5d2" stroke="none" stroke-width="0.0" stroke-linejoin="round"  stroke-linecap="butt"/>
<path d="M637.5 479.3 H584 Q581.5 481.5 584 483.6 H637.5" fill="none" stroke="#1e3b3d" stroke-width="0.91" stroke-linejoin="round"  stroke-linecap="butt"/>
<path d="M637.5 484.4 H583 Q580 488 583 491.2 H637.5Z" fill="#c7d5d2" stroke="none" stroke-width="0.0" stroke-linejoin="round"  stroke-linecap="butt"/>
<path d="M637.5 484.4 H583 Q580 488 583 491.2 H637.5" fill="none" stroke="#1e3b3d" stroke-width="0.91" stroke-linejoin="round"  stroke-linecap="butt"/>
<path d="M637.5 492 H584.5 Q582 494.2 584.5 496.4 H637.5Z" fill="#c7d5d2" stroke="none" stroke-width="0.0" stroke-linejoin="round"  stroke-linecap="butt"/>
<path d="M637.5 492 H584.5 Q582 494.2 584.5 496.4 H637.5" fill="none" stroke="#1e3b3d" stroke-width="0.91" stroke-linejoin="round"  stroke-linecap="butt"/>
<path d="M600.6 479.3V496.4" fill="none" stroke="#1e3b3d" stroke-width="0.91" stroke-linejoin="round"  stroke-linecap="butt"/>
<path d="M637.5 497.2 H594.5 V509 H604 V511.2 H613.3 V509 H625.8 V511 H632.8 V509 H637.5Z" fill="#c7d5d2" stroke="none" stroke-width="0.0" stroke-linejoin="round"  stroke-linecap="butt"/>
<path d="M637.5 497.2 H594.5 V509 H604 V511.2 H613.3 V509 H625.8 V511 H632.8 V509 H637.5" fill="none" stroke="#1e3b3d" stroke-width="0.91" stroke-linejoin="round"  stroke-linecap="butt"/></g>
<g><path d="M637.5 410 H574.5 L573.6 415 Q568.3 416.3 566.1 420.5 Q564.8 425.5 566.8 432.1 L567.9 446.8 Q568.5 452 571.9 454.6 L574.1 457.4 L585.4 455.2 L600 457.4 H637.5Z" fill="#87a8a6" stroke="none" stroke-width="0.0" stroke-linejoin="round"  stroke-linecap="butt"/>
<path d="M637.5 410 H574.5 L573.6 415 Q568.3 416.3 566.1 420.5 Q564.8 425.5 566.8 432.1 L567.9 446.8 Q568.5 452 571.9 454.6 L574.1 457.4 L585.4 455.2 L600 457.4 H637.5" fill="none" stroke="#1e3b3d" stroke-width="1.17" stroke-linejoin="round"  stroke-linecap="butt"/>
<path d="M568.5 392 L571.5 392 L576 419 L569.3 419Z" fill="#93b2b0" stroke="none" stroke-width="0.0" stroke-linejoin="round"  stroke-linecap="butt"/>
<path d="M565.8 394.6 L568.9 394.4 L569.5 416.5 L566 422.3 L565.2 410Z" fill="#4f6c6b" stroke="#1e3b3d" stroke-width="0.78" stroke-linejoin="round"  stroke-linecap="butt"/>
<path d="M585.5 423.4H637.5 M581.8 432H637.5 M583 437H615.8 M568 446.8H637.5 M572 453H637.5" fill="none" stroke="#1e3b3d" stroke-width="0.78" stroke-linejoin="round"  stroke-linecap="butt"/>
<path d="M582.4 421 V446.8 M584.6 422.8 V437 M589.3 423.3 V437" fill="none" stroke="#1e3b3d" stroke-width="0.91" stroke-linejoin="round"  stroke-linecap="butt"/>
<path d="M573.6 415 L583 420.6 L585.5 423.4 M573.6 415 L568 428.1 L581.8 431.9 M566.3 426 L569.2 425.3 M567.2 440H582.4 M570.5 433V446 M574 433V446 M577.5 433V446" fill="none" stroke="#1e3b3d" stroke-width="0.78" stroke-linejoin="round"  stroke-linecap="butt"/>
<path d="M574 457.4 L573 461 L577 461" fill="none" stroke="#1e3b3d" stroke-width="0.78" stroke-linejoin="round"  stroke-linecap="butt"/>
<path d="M615.8 424.3H637.5 M615.8 427.6H637.5 M615.8 441H637.5 M615.8 451.3H637.5 M615.8 424.3 V451.3" fill="none" stroke="#1e3b3d" stroke-width="0.91" stroke-linejoin="round"  stroke-linecap="butt"/>
<path d="M609.5 423.9C608.97 424.75 607.03 427.15 606.3 429C605.57 430.85 605.3 432.75 605.1 435C604.9 437.25 604.87 440.5 605.1 442.5C605.33 444.5 605.85 445.75 606.5 447C607.15 448.25 607.38 449.3 609 450C610.62 450.7 615 451 616.2 451.2" fill="none" stroke="#1e3b3d" stroke-width="1.04" stroke-linejoin="round"  stroke-linecap="butt"/>
<path d="M621.5 422.3 Q612 423.5 607.8 430.8 M620.5 426.6 Q611 428.5 606.7 436.1 M617.8 431.9 Q610.5 434 606.7 441.4 M616.2 437.2 Q611 440 608.8 446.8" fill="none" stroke="#1e3b3d" stroke-width="1.04" stroke-linejoin="round"  stroke-linecap="butt"/>
<path d="M612 433 V451" fill="none" stroke="#1e3b3d" stroke-width="0.78" stroke-linejoin="round"  stroke-linecap="butt"/>
<path d="M637.5 258.7 L600.4 258.7C599.33 258.92 596.07 259.23 594 260C591.93 260.77 589.85 261.38 588 263.3C586.15 265.22 584.27 267.72 582.9 271.5C581.53 275.28 581.18 278.42 579.8 286C578.42 293.58 576.33 307.38 574.6 317C572.87 326.62 570.78 337.53 569.4 343.7C568.02 349.87 566.63 349.53 566.3 354C565.97 358.47 566.7 364.33 567.4 370.5C568.1 376.67 569.47 384.12 570.5 391C571.53 397.88 572.77 406.97 573.6 411.8C574.43 416.63 575.18 418.63 575.5 420 L637.5 420Z" fill="#87a8a6" stroke="none" stroke-width="0.0" stroke-linejoin="round"  stroke-linecap="butt"/>
<path d="M637.5 258.7 L600.4 258.7C599.33 258.92 596.07 259.23 594 260C591.93 260.77 589.85 261.38 588 263.3C586.15 265.22 584.27 267.72 582.9 271.5C581.53 275.28 581.18 278.42 579.8 286C578.42 293.58 576.33 307.38 574.6 317C572.87 326.62 570.78 337.53 569.4 343.7C568.02 349.87 566.63 349.53 566.3 354C565.97 358.47 566.7 364.33 567.4 370.5C568.1 376.67 569.47 384.12 570.5 391C571.53 397.88 572.77 406.97 573.6 411.8C574.43 416.63 575.18 418.63 575.5 420" fill="none" stroke="#1e3b3d" stroke-width="1.17" stroke-linejoin="round"  stroke-linecap="butt"/>
<path d="M600.3 263.5C598.92 263.92 594.13 264.58 592 266C589.87 267.42 588.5 269.37 587.5 272C586.5 274.63 587.12 274.32 586 281.8C584.88 289.28 583.22 304.87 580.8 316.9C578.38 328.93 572.7 343.68 571.5 354C570.3 364.32 572.4 369.17 573.6 378.8C574.8 388.43 577.85 406.3 578.7 411.8" fill="none" stroke="#1e3b3d" stroke-width="0.91" stroke-linejoin="round"  stroke-linecap="butt"/>
<path d="M600.3 258.9 V263.5 Q620 265.3 637.5 265" fill="none" stroke="#1e3b3d" stroke-width="0.91" stroke-linejoin="round"  stroke-linecap="butt"/>
<path d="M583 271.5 L587.5 272 M567 354 L571.5 354" fill="none" stroke="#1e3b3d" stroke-width="0.78" stroke-linejoin="round"  stroke-linecap="butt"/>
<path d="M581.8 281.8C582.83 281.92 585.93 281.8 588 282.5C590.07 283.2 591.45 283.02 594.2 286C596.95 288.98 602.1 293.53 604.5 300.4C606.9 307.27 607.57 318.27 608.6 327.2C609.63 336.13 610.18 344.03 610.7 354C611.22 363.97 611.53 381.5 611.7 387" fill="none" stroke="#1e3b3d" stroke-width="0.91" stroke-linejoin="round"  stroke-linecap="butt"/>
<path d="M594.2 286 L583.9 299.3 M604.5 302.9 L580.8 315.9" fill="none" stroke="#1e3b3d" stroke-width="0.91" stroke-linejoin="round"  stroke-linecap="butt"/>
<path d="M587 338.8 L625 366.2 Q631.2 370.8 631.2 378.5 V423" fill="none" stroke="#1e3b3d" stroke-width="6.1" stroke-linejoin="round"  stroke-linecap="round"/>
<path d="M587 338.8 L625 366.2 Q631.2 370.8 631.2 378.5 V423" fill="none" stroke="#86a7a5" stroke-width="4.1000000000000005" stroke-linejoin="round"  stroke-linecap="round"/>
<path d="M580.8 354 L615 371.5 Q620.6 374.5 620.6 382 V414.5 Q620.6 419.6 615.4 419.6 Q610.2 419.6 610.2 414.5 V389 Q610.2 383 604 381 L580.8 373.6" fill="none" stroke="#1e3b3d" stroke-width="5.5" stroke-linejoin="round"  stroke-linecap="round"/>
<path d="M580.8 354 L615 371.5 Q620.6 374.5 620.6 382 V414.5 Q620.6 419.6 615.4 419.6 Q610.2 419.6 610.2 414.5 V389 Q610.2 383 604 381 L580.8 373.6" fill="none" stroke="#86a7a5" stroke-width="3.5" stroke-linejoin="round"  stroke-linecap="round"/>
<path d="M583 355.2 L614.5 371.3 Q620.6 374.5 620.6 382 V412" fill="none" stroke="#1e3b3d" stroke-width="0.59" stroke-linejoin="round"  stroke-linecap="butt"/>
<path d="M631.2 380 V423" fill="none" stroke="#1e3b3d" stroke-width="0.65" stroke-linejoin="round"  stroke-linecap="butt"/>
<path d="M597.8 346.6 l-2.2 3.2 M620.5 363 l-2.2 3 M606 367 l-1.6 3" fill="none" stroke="#1e3b3d" stroke-width="0.65" stroke-linejoin="round"  stroke-linecap="butt"/>
<path d="M572.8 402.3 H607.5 M592.5 402.5 L590.6 407.5 L585 415 L592.5 423" fill="none" stroke="#1e3b3d" stroke-width="0.91" stroke-linejoin="round"  stroke-linecap="butt"/>
<path d="M637.5 204.3 H606.3 Q603 208 601 215.5 Q597 230 593.8 245.5 L593.5 253 Q593.5 257.5 598 257.5 H637.5Z" fill="#87a8a6" stroke="none" stroke-width="0.0" stroke-linejoin="round"  stroke-linecap="butt"/>
<path d="M637.5 204.3 H606.3 Q603 208 601 215.5 Q597 230 593.8 245.5 L593.5 253 Q593.5 257.5 598 257.5 H637.5" fill="none" stroke="#1e3b3d" stroke-width="1.17" stroke-linejoin="round"  stroke-linecap="butt"/>
<path d="M619.3 204.3 V257.5" fill="none" stroke="#1e3b3d" stroke-width="0.91" stroke-linejoin="round"  stroke-linecap="butt"/>
<path d="M608.5 205C607.67 207 605 212 603.5 217C602 222 600.42 228.42 599.5 235C598.58 241.58 598.25 252.92 598 256.5" fill="none" stroke="#1e3b3d" stroke-width="0.91" stroke-linejoin="round"  stroke-linecap="butt"/>
<path d="M610.8 217 H619" fill="none" stroke="#4d6867" stroke-width="1.17" stroke-linejoin="round"  stroke-linecap="butt"/>
<path d="M601.5 216 L604 217 M594.5 244 L598.3 244.6" fill="none" stroke="#1e3b3d" stroke-width="0.78" stroke-linejoin="round"  stroke-linecap="butt"/></g>
<g transform="translate(1273.0,0) scale(-1,1)"><path d="M637.5 410 H574.5 L573.6 415 Q568.3 416.3 566.1 420.5 Q564.8 425.5 566.8 432.1 L567.9 446.8 Q568.5 452 571.9 454.6 L574.1 457.4 L585.4 455.2 L600 457.4 H637.5Z" fill="#87a8a6" stroke="none" stroke-width="0.0" stroke-linejoin="round"  stroke-linecap="butt"/>
<path d="M637.5 410 H574.5 L573.6 415 Q568.3 416.3 566.1 420.5 Q564.8 425.5 566.8 432.1 L567.9 446.8 Q568.5 452 571.9 454.6 L574.1 457.4 L585.4 455.2 L600 457.4 H637.5" fill="none" stroke="#1e3b3d" stroke-width="1.17" stroke-linejoin="round"  stroke-linecap="butt"/>
<path d="M568.5 392 L571.5 392 L576 419 L569.3 419Z" fill="#93b2b0" stroke="none" stroke-width="0.0" stroke-linejoin="round"  stroke-linecap="butt"/>
<path d="M565.8 394.6 L568.9 394.4 L569.5 416.5 L566 422.3 L565.2 410Z" fill="#4f6c6b" stroke="#1e3b3d" stroke-width="0.78" stroke-linejoin="round"  stroke-linecap="butt"/>
<path d="M585.5 423.4H637.5 M581.8 432H637.5 M583 437H615.8 M568 446.8H637.5 M572 453H637.5" fill="none" stroke="#1e3b3d" stroke-width="0.78" stroke-linejoin="round"  stroke-linecap="butt"/>
<path d="M582.4 421 V446.8 M584.6 422.8 V437 M589.3 423.3 V437" fill="none" stroke="#1e3b3d" stroke-width="0.91" stroke-linejoin="round"  stroke-linecap="butt"/>
<path d="M573.6 415 L583 420.6 L585.5 423.4 M573.6 415 L568 428.1 L581.8 431.9 M566.3 426 L569.2 425.3 M567.2 440H582.4 M570.5 433V446 M574 433V446 M577.5 433V446" fill="none" stroke="#1e3b3d" stroke-width="0.78" stroke-linejoin="round"  stroke-linecap="butt"/>
<path d="M574 457.4 L573 461 L577 461" fill="none" stroke="#1e3b3d" stroke-width="0.78" stroke-linejoin="round"  stroke-linecap="butt"/>
<path d="M615.8 424.3H637.5 M615.8 427.6H637.5 M615.8 441H637.5 M615.8 451.3H637.5 M615.8 424.3 V451.3" fill="none" stroke="#1e3b3d" stroke-width="0.91" stroke-linejoin="round"  stroke-linecap="butt"/>
<path d="M609.5 423.9C608.97 424.75 607.03 427.15 606.3 429C605.57 430.85 605.3 432.75 605.1 435C604.9 437.25 604.87 440.5 605.1 442.5C605.33 444.5 605.85 445.75 606.5 447C607.15 448.25 607.38 449.3 609 450C610.62 450.7 615 451 616.2 451.2" fill="none" stroke="#1e3b3d" stroke-width="1.04" stroke-linejoin="round"  stroke-linecap="butt"/>
<path d="M621.5 422.3 Q612 423.5 607.8 430.8 M620.5 426.6 Q611 428.5 606.7 436.1 M617.8 431.9 Q610.5 434 606.7 441.4 M616.2 437.2 Q611 440 608.8 446.8" fill="none" stroke="#1e3b3d" stroke-width="1.04" stroke-linejoin="round"  stroke-linecap="butt"/>
<path d="M612 433 V451" fill="none" stroke="#1e3b3d" stroke-width="0.78" stroke-linejoin="round"  stroke-linecap="butt"/>
<path d="M637.5 258.7 L600.4 258.7C599.33 258.92 596.07 259.23 594 260C591.93 260.77 589.85 261.38 588 263.3C586.15 265.22 584.27 267.72 582.9 271.5C581.53 275.28 581.18 278.42 579.8 286C578.42 293.58 576.33 307.38 574.6 317C572.87 326.62 570.78 337.53 569.4 343.7C568.02 349.87 566.63 349.53 566.3 354C565.97 358.47 566.7 364.33 567.4 370.5C568.1 376.67 569.47 384.12 570.5 391C571.53 397.88 572.77 406.97 573.6 411.8C574.43 416.63 575.18 418.63 575.5 420 L637.5 420Z" fill="#87a8a6" stroke="none" stroke-width="0.0" stroke-linejoin="round"  stroke-linecap="butt"/>
<path d="M637.5 258.7 L600.4 258.7C599.33 258.92 596.07 259.23 594 260C591.93 260.77 589.85 261.38 588 263.3C586.15 265.22 584.27 267.72 582.9 271.5C581.53 275.28 581.18 278.42 579.8 286C578.42 293.58 576.33 307.38 574.6 317C572.87 326.62 570.78 337.53 569.4 343.7C568.02 349.87 566.63 349.53 566.3 354C565.97 358.47 566.7 364.33 567.4 370.5C568.1 376.67 569.47 384.12 570.5 391C571.53 397.88 572.77 406.97 573.6 411.8C574.43 416.63 575.18 418.63 575.5 420" fill="none" stroke="#1e3b3d" stroke-width="1.17" stroke-linejoin="round"  stroke-linecap="butt"/>
<path d="M600.3 263.5C598.92 263.92 594.13 264.58 592 266C589.87 267.42 588.5 269.37 587.5 272C586.5 274.63 587.12 274.32 586 281.8C584.88 289.28 583.22 304.87 580.8 316.9C578.38 328.93 572.7 343.68 571.5 354C570.3 364.32 572.4 369.17 573.6 378.8C574.8 388.43 577.85 406.3 578.7 411.8" fill="none" stroke="#1e3b3d" stroke-width="0.91" stroke-linejoin="round"  stroke-linecap="butt"/>
<path d="M600.3 258.9 V263.5 Q620 265.3 637.5 265" fill="none" stroke="#1e3b3d" stroke-width="0.91" stroke-linejoin="round"  stroke-linecap="butt"/>
<path d="M583 271.5 L587.5 272 M567 354 L571.5 354" fill="none" stroke="#1e3b3d" stroke-width="0.78" stroke-linejoin="round"  stroke-linecap="butt"/>
<path d="M581.8 281.8C582.83 281.92 585.93 281.8 588 282.5C590.07 283.2 591.45 283.02 594.2 286C596.95 288.98 602.1 293.53 604.5 300.4C606.9 307.27 607.57 318.27 608.6 327.2C609.63 336.13 610.18 344.03 610.7 354C611.22 363.97 611.53 381.5 611.7 387" fill="none" stroke="#1e3b3d" stroke-width="0.91" stroke-linejoin="round"  stroke-linecap="butt"/>
<path d="M594.2 286 L583.9 299.3 M604.5 302.9 L580.8 315.9" fill="none" stroke="#1e3b3d" stroke-width="0.91" stroke-linejoin="round"  stroke-linecap="butt"/>
<path d="M587 338.8 L625 366.2 Q631.2 370.8 631.2 378.5 V423" fill="none" stroke="#1e3b3d" stroke-width="6.1" stroke-linejoin="round"  stroke-linecap="round"/>
<path d="M587 338.8 L625 366.2 Q631.2 370.8 631.2 378.5 V423" fill="none" stroke="#86a7a5" stroke-width="4.1000000000000005" stroke-linejoin="round"  stroke-linecap="round"/>
<path d="M580.8 354 L615 371.5 Q620.6 374.5 620.6 382 V414.5 Q620.6 419.6 615.4 419.6 Q610.2 419.6 610.2 414.5 V389 Q610.2 383 604 381 L580.8 373.6" fill="none" stroke="#1e3b3d" stroke-width="5.5" stroke-linejoin="round"  stroke-linecap="round"/>
<path d="M580.8 354 L615 371.5 Q620.6 374.5 620.6 382 V414.5 Q620.6 419.6 615.4 419.6 Q610.2 419.6 610.2 414.5 V389 Q610.2 383 604 381 L580.8 373.6" fill="none" stroke="#86a7a5" stroke-width="3.5" stroke-linejoin="round"  stroke-linecap="round"/>
<path d="M583 355.2 L614.5 371.3 Q620.6 374.5 620.6 382 V412" fill="none" stroke="#1e3b3d" stroke-width="0.59" stroke-linejoin="round"  stroke-linecap="butt"/>
<path d="M631.2 380 V423" fill="none" stroke="#1e3b3d" stroke-width="0.65" stroke-linejoin="round"  stroke-linecap="butt"/>
<path d="M597.8 346.6 l-2.2 3.2 M620.5 363 l-2.2 3 M606 367 l-1.6 3" fill="none" stroke="#1e3b3d" stroke-width="0.65" stroke-linejoin="round"  stroke-linecap="butt"/>
<path d="M572.8 402.3 H607.5 M592.5 402.5 L590.6 407.5 L585 415 L592.5 423" fill="none" stroke="#1e3b3d" stroke-width="0.91" stroke-linejoin="round"  stroke-linecap="butt"/>
<path d="M637.5 204.3 H606.3 Q603 208 601 215.5 Q597 230 593.8 245.5 L593.5 253 Q593.5 257.5 598 257.5 H637.5Z" fill="#87a8a6" stroke="none" stroke-width="0.0" stroke-linejoin="round"  stroke-linecap="butt"/>
<path d="M637.5 204.3 H606.3 Q603 208 601 215.5 Q597 230 593.8 245.5 L593.5 253 Q593.5 257.5 598 257.5 H637.5" fill="none" stroke="#1e3b3d" stroke-width="1.17" stroke-linejoin="round"  stroke-linecap="butt"/>
<path d="M619.3 204.3 V257.5" fill="none" stroke="#1e3b3d" stroke-width="0.91" stroke-linejoin="round"  stroke-linecap="butt"/>
<path d="M608.5 205C607.67 207 605 212 603.5 217C602 222 600.42 228.42 599.5 235C598.58 241.58 598.25 252.92 598 256.5" fill="none" stroke="#1e3b3d" stroke-width="0.91" stroke-linejoin="round"  stroke-linecap="butt"/>
<path d="M610.8 217 H619" fill="none" stroke="#4d6867" stroke-width="1.17" stroke-linejoin="round"  stroke-linecap="butt"/>
<path d="M601.5 216 L604 217 M594.5 244 L598.3 244.6" fill="none" stroke="#1e3b3d" stroke-width="0.78" stroke-linejoin="round"  stroke-linecap="butt"/></g>
<path d="M636.5 433 V446" fill="none" stroke="#1e3b3d" stroke-width="1.82" stroke-linejoin="round"  stroke-linecap="butt"/>
<circle cx="636.9" cy="407.6" r="3.8" fill="#c5d3d0" stroke="#1e3b3d" stroke-width="1.17"/>
<path d="M633.1 407.6H640.7 M636.9 403.8V411.4" fill="none" stroke="#1e3b3d" stroke-width="1.04" stroke-linejoin="round"  stroke-linecap="butt"/>
<path d="M607 503.4 Q607 499.8 610.5 499.8 Q613 499.8 615 501.2 L629.5 501.9 V504.9 L615 505.6 Q613 507 610.5 507 Q607 507 607 503.4Z" fill="#c7d5d2" stroke="#1e3b3d" stroke-width="1.04" stroke-linejoin="round"  stroke-linecap="butt"/>
<path d="M611.5 500 L614 503.4 L611.5 506.8" fill="none" stroke="#1e3b3d" stroke-width="0.65" stroke-linejoin="round"  stroke-linecap="butt"/>
<path d="M629.3 500.4 L633.8 506.4 M633.8 500.4 L629.3 506.4 M629.3 500.4 V506.4" fill="none" stroke="#1e3b3d" stroke-width="0.91" stroke-linejoin="round"  stroke-linecap="butt"/>
<circle cx="637.2" cy="503.4" r="3.5" fill="#c7d5d2" stroke="#1e3b3d" stroke-width="1.04"/>
<rect x="652" y="499.7" width="8" height="7.5" rx="0" fill="#c7d5d2" stroke="#1e3b3d" stroke-width="1.04"/>
</g>
<g fill="none">
<path d="M114.5 164V195" stroke="#7f9890" stroke-width="1"/>
<path d="M114.5 292V474" stroke="#7f9890" stroke-width="1"/>
<path d="M333 164V195.5" stroke="#7f9890" stroke-width="1"/>
<path d="M236.5 204V572" stroke="#7f9890" stroke-width="1"/>
<path d="M370.5 216.5V540.5" stroke="#7f9890" stroke-width="1"/>
<path d="M346.5 431.5V540.5" stroke="#7f9890" stroke-width="1"/>
<path d="M95.5 441V540.5" stroke="#7f9890" stroke-width="1"/>
<path d="M187.5 540V678" stroke="#7f9890" stroke-width="1"/>
<path d="M287.5 572V612" stroke="#7f9890" stroke-width="1"/>
<path d="M214.5 603V628" stroke="#7f9890" stroke-width="1"/>
<path d="M202.5 605V614" stroke="#7f9890" stroke-width="1"/>
<path d="M279.5 603V678" stroke="#7f9890" stroke-width="1"/>
<path d="M269 614V659" stroke="#7f9890" stroke-width="1"/>
<path d="M114 174.5H332" stroke="#7f9890" stroke-width="1"/>
<path d="M214 216.5H258.5" stroke="#7f9890" stroke-width="1"/>
<path d="M214.5 213.7V219.3" stroke="#7f9890" stroke-width="1"/>
<path d="M258.5 213.7V219.3" stroke="#7f9890" stroke-width="1"/>
<path d="M214 249.5H258.5" stroke="#7f9890" stroke-width="1"/>
<path d="M214.5 246.7V252.3" stroke="#7f9890" stroke-width="1"/>
<path d="M258.5 246.7V252.3" stroke="#7f9890" stroke-width="1"/>
<path d="M114 294.5H236" stroke="#7f9890" stroke-width="1"/>
<path d="M307 216.5H377.5" stroke="#7f9890" stroke-width="1"/>
<path d="M214 431.5H352.5" stroke="#7f9890" stroke-width="1"/>
<path d="M90 441H127" stroke="#7f9890" stroke-width="1"/>
<path d="M90 540.5H377.3" stroke="#7f9890" stroke-width="1"/>
<path d="M187.5 569.5H236.5" stroke="#4a4646" stroke-width="1"/>
<path d="M236.5 569.5H349" stroke="#7f9890" stroke-width="1"/>
<path d="M0 575H287.5" stroke="#7f9890" stroke-width="1"/>
<path d="M214.5 605H417" stroke="#7f9890" stroke-width="1"/>
<path d="M187.5 614H287" stroke="#7f9890" stroke-width="1"/>
<path d="M187.5 655H410" stroke="#7f9890" stroke-width="1"/>
<path d="M61 674H279.5" stroke="#7f9890" stroke-width="1"/>
<path d="M541.5 154.4V365" stroke="#7f9890" stroke-width="1"/>
<path d="M732 154.4V365" stroke="#7f9890" stroke-width="1"/>
<path d="M566 188V352" stroke="#7f9890" stroke-width="1"/>
<path d="M707.5 188V352" stroke="#7f9890" stroke-width="1"/>
<path d="M446 364V497" stroke="#7f9890" stroke-width="1"/>
<path d="M491 378.5V481.5" stroke="#7f9890" stroke-width="1"/>
<path d="M527.5 481.5V638.5" stroke="#7f9890" stroke-width="1"/>
<path d="M746 481.5V638.5" stroke="#7f9890" stroke-width="1"/>
<path d="M564.5 481.5V599.7" stroke="#7f9890" stroke-width="1"/>
<path d="M709.4 481.5V599.7" stroke="#7f9890" stroke-width="1"/>
<path d="M598.5 511.5V552" stroke="#7f9890" stroke-width="1"/>
<path d="M674.5 511.5V552" stroke="#7f9890" stroke-width="1"/>
<path d="M541.5 158.5H732.5" stroke="#7f9890" stroke-width="1"/>
<path d="M565.5 193.5H707.5" stroke="#7f9890" stroke-width="1"/>
<path d="M439.5 364H543" stroke="#7f9890" stroke-width="1"/>
<path d="M439.5 497H585" stroke="#7f9890" stroke-width="1"/>
<path d="M441 430.5H478" stroke="#7f9890" stroke-width="1"/>
<path d="M487.5 430.5H508" stroke="#7f9890" stroke-width="1"/>
<path d="M488 378.5H543" stroke="#7f9890" stroke-width="1"/>
<path d="M488 481.5H528" stroke="#7f9890" stroke-width="1"/>
<path d="M598.5 548.5H800" stroke="#7f9890" stroke-width="1"/>
<path d="M564.5 595H709.4" stroke="#7f9890" stroke-width="1"/>
<path d="M527.5 633H746" stroke="#7f9890" stroke-width="1"/>
</g>
<polygon points="114.8,174.5 120.0,173.15 120.0,175.85" fill="#1f5644"/>
<polygon points="332.2,174.5 327.0,173.15 327.0,175.85" fill="#1f5644"/>
<polygon points="114.8,294.5 120.0,293.15 120.0,295.85" fill="#1f5644"/>
<polygon points="236.2,294.5 231.0,293.15 231.0,295.85" fill="#1f5644"/>
<polygon points="370.5,216.8 369.15,222.0 371.85,222.0" fill="#1f5644"/>
<polygon points="370.5,540.2 369.15,535.0 371.85,535.0" fill="#1f5644"/>
<polygon points="346.5,431.8 345.15,437.0 347.85,437.0" fill="#1f5644"/>
<polygon points="346.5,540.2 345.15,535.0 347.85,535.0" fill="#1f5644"/>
<polygon points="95.5,441.3 94.15,446.5 96.85,446.5" fill="#1f5644"/>
<polygon points="95.5,540.2 94.15,535.0 96.85,535.0" fill="#1f5644"/>
<polygon points="236.8,569.5 242.0,568.15 242.0,570.85" fill="#1f5644"/>
<polygon points="187.2,575 182.0,573.65 182.0,576.35" fill="#1f5644"/>
<polygon points="187.8,575 193.0,573.65 193.0,576.35" fill="#1f5644"/>
<polygon points="287.2,575 282.0,573.65 282.0,576.35" fill="#1f5644"/>
<polygon points="214.8,605 220.0,603.65 220.0,606.35" fill="#1f5644"/>
<polygon points="279.2,605 274.0,603.65 274.0,606.35" fill="#1f5644"/>
<polygon points="279.8,605 285.0,603.65 285.0,606.35" fill="#1f5644"/>
<polygon points="287.2,605 282.0,603.65 282.0,606.35" fill="#1f5644"/>
<polygon points="187.8,655 193.0,653.65 193.0,656.35" fill="#1f5644"/>
<polygon points="268.7,655 263.5,653.65 263.5,656.35" fill="#1f5644"/>
<polygon points="269.8,655 275.0,653.65 275.0,656.35" fill="#1f5644"/>
<polygon points="187.2,674 182.0,672.65 182.0,675.35" fill="#1f5644"/>
<polygon points="541.8,158.5 547.0,157.15 547.0,159.85" fill="#1f5644"/>
<polygon points="731.7,158.5 726.5,157.15 726.5,159.85" fill="#1f5644"/>
<polygon points="566.3,193.5 571.5,192.15 571.5,194.85" fill="#1f5644"/>
<polygon points="707.2,193.5 702.0,192.15 702.0,194.85" fill="#1f5644"/>
<polygon points="446,364.3 444.65,369.5 447.35,369.5" fill="#1f5644"/>
<polygon points="446,496.7 444.65,491.5 447.35,491.5" fill="#1f5644"/>
<polygon points="446,427.6 444.65,422.40000000000003 447.35,422.40000000000003" fill="#1f5644"/>
<polygon points="446,433.4 444.65,438.59999999999997 447.35,438.59999999999997" fill="#1f5644"/>
<polygon points="491,378.8 489.65,384.0 492.35,384.0" fill="#1f5644"/>
<polygon points="491,481.2 489.65,476.0 492.35,476.0" fill="#1f5644"/>
<polygon points="491,427.6 489.65,422.40000000000003 492.35,422.40000000000003" fill="#1f5644"/>
<polygon points="491,433.4 489.65,438.59999999999997 492.35,438.59999999999997" fill="#1f5644"/>
<polygon points="598.8,548.5 604.0,547.15 604.0,549.85" fill="#1f5644"/>
<polygon points="674.2,548.5 669.0,547.15 669.0,549.85" fill="#1f5644"/>
<polygon points="674.8,548.5 680.0,547.15 680.0,549.85" fill="#1f5644"/>
<polygon points="564.8,595 570.0,593.65 570.0,596.35" fill="#1f5644"/>
<polygon points="709.1,595 703.9,593.65 703.9,596.35" fill="#1f5644"/>
<polygon points="527.8,633 533.0,631.65 533.0,634.35" fill="#1f5644"/>
<polygon points="745.7,633 740.5,631.65 740.5,634.35" fill="#1f5644"/>
<circle cx="236.5" cy="216.5" r="3" fill="#fff" fill-opacity="0.55" stroke="#2c3a38" stroke-width="0.95"/>
<circle cx="236.5" cy="249.5" r="3" fill="#fff" fill-opacity="0.55" stroke="#2c3a38" stroke-width="0.95"/>
<circle cx="236.5" cy="431.5" r="3.6" fill="#fff" fill-opacity="0.55" stroke="#2c3a38" stroke-width="0.95"/>
<circle cx="187.5" cy="614" r="2.8" fill="#fff" fill-opacity="0.55" stroke="#2c3a38" stroke-width="0.95"/>
<circle cx="202.5" cy="614" r="2.8" fill="#fff" fill-opacity="0.55" stroke="#2c3a38" stroke-width="0.95"/>
<circle cx="214.5" cy="614" r="2.8" fill="#fff" fill-opacity="0.55" stroke="#2c3a38" stroke-width="0.95"/>
<circle cx="269" cy="614" r="2.8" fill="#fff" fill-opacity="0.55" stroke="#2c3a38" stroke-width="0.95"/>
<circle cx="279.5" cy="614" r="2.8" fill="#fff" fill-opacity="0.55" stroke="#2c3a38" stroke-width="0.95"/>
<circle cx="287" cy="614" r="2.8" fill="#fff" fill-opacity="0.55" stroke="#2c3a38" stroke-width="0.95"/>
<circle cx="446" cy="430.5" r="2.5" fill="#fff" fill-opacity="0.55" stroke="#2c3a38" stroke-width="0.95"/>
<circle cx="491" cy="430.5" r="2.5" fill="#fff" fill-opacity="0.55" stroke="#2c3a38" stroke-width="0.95"/>
<g font-family="'Liberation Sans', sans-serif" fill="#151515" text-rendering="geometricPrecision" opacity="0.999">
<text transform="translate(178.70,169.00) scale(0.8967,1)" x="-1.62" y="0" font-size="32.5">675 mm</text>
<text transform="translate(167.50,210.00) scale(0.8827,1)" x="-2.44" y="0" font-size="32.5">17,5</text>
<text transform="translate(246.50,210.00) scale(0.8874,1)" x="-1.62" y="0" font-size="32.5">27,5</text>
<text transform="translate(194.00,244.00) scale(0.8753,1)" x="-1.46" y="0" font-size="32.5">90</text>
<text transform="translate(246.50,244.00) scale(0.8711,1)" x="-1.30" y="0" font-size="32.5">80</text>
<text transform="translate(123.00,287.00) scale(0.8891,1)" x="-0.65" y="0" font-size="32.5">400 mm</text>
<text transform="translate(19.00,568.50) scale(0.9011,1)" x="-1.62" y="0" font-size="32.5">280 mm</text>
<text transform="translate(149.00,568.50) scale(0.9050,1)" x="-1.62" y="0" font-size="32.5">26</text>
<text transform="translate(247.50,568.50) scale(0.8943,1)" x="-2.44" y="0" font-size="32.5">176 mm</text>
<text transform="translate(185.30,605.20) scale(0.8497,1)" x="-2.44" y="0" font-size="32.5">12</text>
<text transform="translate(185.90,643.30) scale(0.8989,1)" x="-1.62" y="0" font-size="32.5">25</text>
<text transform="translate(300.00,597.50) scale(0.8791,1)" x="-1.62" y="0" font-size="32.5">265 mm</text>
<text transform="translate(295.00,647.50) scale(0.9011,1)" x="-1.62" y="0" font-size="32.5">295 mm</text>
<text transform="translate(66.50,662.50) scale(0.8941,1)" x="-1.30" y="0" font-size="32.5">325 mm</text>
<text transform="translate(585.00,150.00) scale(0.8949,1)" x="-1.62" y="0" font-size="32.5">675 mm</text>
<text transform="translate(586.40,189.00) scale(0.8943,1)" x="-0.65" y="0" font-size="32.5">490 mm</text>
<text transform="translate(696.00,539.00) scale(0.9011,1)" x="-1.62" y="0" font-size="32.5">260 mm</text>
<text transform="translate(590.00,586.50) scale(0.8847,1)" x="-0.65" y="0" font-size="32.5">485 mm</text>
<text transform="translate(591.50,627.50) scale(0.8791,1)" x="-1.62" y="0" font-size="32.5">751 mm</text>
<text transform="translate(364.00,407.50) rotate(-90) scale(0.8780,1)" x="-2.44" y="0" font-size="32.5">1060 mm</text>
<text transform="translate(339.00,535.00) rotate(-90) scale(0.8810,1)" x="-1.30" y="0" font-size="32.5">356 mm</text>
<text transform="translate(85.00,537.50) rotate(-90) scale(0.8898,1)" x="-1.30" y="0" font-size="32.5">301 mm</text>
<text transform="translate(437.00,411.00) rotate(-90) scale(0.8324,1)" x="-1.30" y="0" font-size="32.5">50</text>
<text transform="translate(437.00,468.00) rotate(-90) scale(0.8324,1)" x="-1.30" y="0" font-size="32.5">50</text>
<text transform="translate(481.60,420.00) rotate(-90) scale(0.8621,1)" x="-1.30" y="0" font-size="32.5">30</text>
<text transform="translate(481.60,468.40) rotate(-90) scale(0.8562,1)" x="-1.30" y="0" font-size="32.5">30</text>
</g>
</svg></body></html>
